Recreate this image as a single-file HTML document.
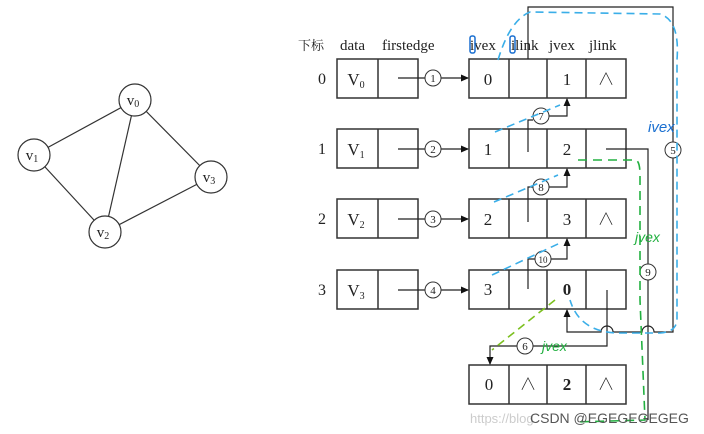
<!DOCTYPE html>
<html><head><meta charset="utf-8"><style>
body{margin:0;background:#fff;}
svg{display:block;}
text{font-family:"Liberation Serif","Noto Serif CJK SC",serif;fill:#222;}
</style></head><body>
<svg width="704" height="434" viewBox="0 0 704 434" xmlns="http://www.w3.org/2000/svg">
<defs>
<marker id="a" markerWidth="8" markerHeight="8" refX="7" refY="4" orient="auto" markerUnits="userSpaceOnUse"><path d="M0,0.5 L8,4 L0,7.5Z" fill="#111"/></marker>
</defs>
<g stroke="#333" stroke-width="1.2" fill="none">
<line x1="135" y1="100" x2="34" y2="155"/>
<line x1="135" y1="100" x2="105" y2="232"/>
<line x1="135" y1="100" x2="211" y2="177"/>
<line x1="34" y1="155" x2="105" y2="232"/>
<line x1="105" y1="232" x2="211" y2="177"/>
</g>
<g stroke="#333" stroke-width="1.2" fill="#fff">
<circle cx="135" cy="100" r="16"/><circle cx="34" cy="155" r="16"/>
<circle cx="211" cy="177" r="16"/><circle cx="105" cy="232" r="16"/>
</g>
<g font-size="15" text-anchor="middle">
<text x="133" y="105">v<tspan font-size="10" dy="2">0</tspan></text>
<text x="32" y="160">v<tspan font-size="10" dy="2">1</tspan></text>
<text x="209" y="182">v<tspan font-size="10" dy="2">3</tspan></text>
<text x="103" y="237">v<tspan font-size="10" dy="2">2</tspan></text>
</g>
<g font-size="15">
<text x="298" y="50" font-size="13">下标</text>
<text x="340" y="50">data</text>
<text x="382" y="50">firstedge</text>
<text x="470" y="50">ivex</text>
<text x="511" y="50">ilink</text>
<text x="549" y="50">jvex</text>
<text x="589" y="50">jlink</text>
</g>
<rect x="470" y="36" width="5" height="17" rx="2" fill="none" stroke="#1a6fd0" stroke-width="1.5"/>
<rect x="510" y="36" width="5" height="17" rx="2" fill="none" stroke="#1a6fd0" stroke-width="1.5"/>
<g stroke="#333" stroke-width="1.5" fill="none">
<rect x="337" y="59" width="81" height="39"/><line x1="378" y1="59" x2="378" y2="98"/>
<rect x="337" y="129" width="81" height="39"/><line x1="378" y1="129" x2="378" y2="168"/>
<rect x="337" y="199" width="81" height="39"/><line x1="378" y1="199" x2="378" y2="238"/>
<rect x="337" y="270" width="81" height="39"/><line x1="378" y1="270" x2="378" y2="309"/>
</g>
<g font-size="16" text-anchor="middle">
<text x="322" y="84">0</text><text x="322" y="154">1</text><text x="322" y="224">2</text><text x="322" y="295">3</text>
<text x="356" y="85" font-size="17">V<tspan font-size="10" dy="3">0</tspan></text>
<text x="356" y="155" font-size="17">V<tspan font-size="10" dy="3">1</tspan></text>
<text x="356" y="225" font-size="17">V<tspan font-size="10" dy="3">2</tspan></text>
<text x="356" y="296" font-size="17">V<tspan font-size="10" dy="3">3</tspan></text>
</g>
<g stroke="#333" stroke-width="1.5" fill="none">
<rect x="469" y="59" width="157" height="39"/><path d="M509,59V98M547,59V98M586,59V98"/>
<rect x="469" y="129" width="157" height="39"/><path d="M509,129V168M547,129V168M586,129V168"/>
<rect x="469" y="199" width="157" height="39"/><path d="M509,199V238M547,199V238M586,199V238"/>
<rect x="469" y="270" width="157" height="39"/><path d="M509,270V309M547,270V309M586,270V309"/>
<rect x="469" y="365" width="157" height="39"/><path d="M509,365V404M547,365V404M586,365V404"/>
</g>
<g font-size="17" text-anchor="middle">
<text x="488" y="85">0</text><text x="567" y="85">1</text><text x="606" y="85">∧</text>
<text x="488" y="155">1</text><text x="567" y="155">2</text>
<text x="488" y="225">2</text><text x="567" y="225">3</text><text x="606" y="225">∧</text>
<text x="488" y="295">3</text><text x="567" y="295" font-weight="bold">0</text>
<text x="489" y="390">0</text><text x="528" y="390">∧</text><text x="567" y="390" font-weight="bold">2</text><text x="606" y="390">∧</text>
</g>
<g stroke="#222" stroke-width="1.2" fill="none">
<path d="M398,78H425M441,78H468" marker-end="url(#a)"/>
<path d="M398,149H425M441,149H468" marker-end="url(#a)"/>
<path d="M398,219H425M441,219H468" marker-end="url(#a)"/>
<path d="M398,290H425M441,290H468" marker-end="url(#a)"/>
<path d="M528,152V120H533M549,116H567V99" marker-end="url(#a)"/>
<path d="M528,222V187H533M549,187H567V169" marker-end="url(#a)"/>
<path d="M528,289V259H535M551,259H567V239" marker-end="url(#a)"/>
<path d="M528,59V7H673V142M673,158V332H654a6,6 0 0 0 -12,0H613a6,6 0 0 0 -12,0H567V310" marker-end="url(#a)"/>
<path d="M606,149H648V264M648,280V420"/>
<path d="M607,290V346H533M517,346H490V364" marker-end="url(#a)"/>
</g>
<g stroke="#333" stroke-width="1" fill="#fff">
<circle cx="433" cy="78" r="8"/><circle cx="433" cy="149" r="8"/><circle cx="433" cy="219" r="8"/><circle cx="433" cy="290" r="8"/>
<circle cx="541" cy="116" r="8"/><circle cx="541" cy="187" r="8"/><circle cx="543" cy="259" r="8"/>
<circle cx="673" cy="150" r="8"/><circle cx="648" cy="272" r="8"/><circle cx="525" cy="346" r="8"/>
</g>
<g font-size="11" text-anchor="middle">
<text x="433" y="82">1</text><text x="433" y="153">2</text><text x="433" y="223">3</text><text x="433" y="294">4</text>
<text x="541" y="120">7</text><text x="541" y="191">8</text><text x="543" y="263" font-size="9">10</text>
<text x="673" y="154">5</text><text x="648" y="276">9</text><text x="525" y="350">6</text>
</g>
<g stroke="#3aaee8" stroke-width="1.6" fill="none" stroke-dasharray="8,5">
<path d="M498,60 Q510,20 530,12 L660,14 Q680,20 677,60 L677,320 Q676,332 660,333 L620,333 Q580,333 570,300"/>
<path d="M495,132 L560,105"/>
<path d="M494,202 L558,175"/>
<path d="M492,275 L560,243"/>
</g>
<text x="648" y="132" font-size="15" style="font-family:'Liberation Sans',sans-serif;fill:#1a6fd0;font-style:italic">ivex</text>
<g stroke="#22b040" stroke-width="1.6" fill="none" stroke-dasharray="9,6">
<path d="M578,160 H636 Q640,162 640,175 L640,300 L645,420 L575,422"/>
</g>
<path d="M555,300 L492,350" stroke="#7cc020" stroke-width="1.6" fill="none" stroke-dasharray="8,5"/>
<text x="635" y="242" font-size="14" style="font-family:'Liberation Sans',sans-serif;fill:#22b040;font-style:italic">jvex</text>
<text x="542" y="351" font-size="14" style="font-family:'Liberation Sans',sans-serif;fill:#22b040;font-style:italic">jvex</text>
<text x="470" y="423" font-size="13" style="font-family:'Liberation Sans',sans-serif;fill:#ccc">https://blog</text>
<text x="530" y="423" font-size="14" style="font-family:'Liberation Sans',sans-serif;fill:#555">CSDN @EGEGEGEGEG</text>
</svg>
</body></html>
